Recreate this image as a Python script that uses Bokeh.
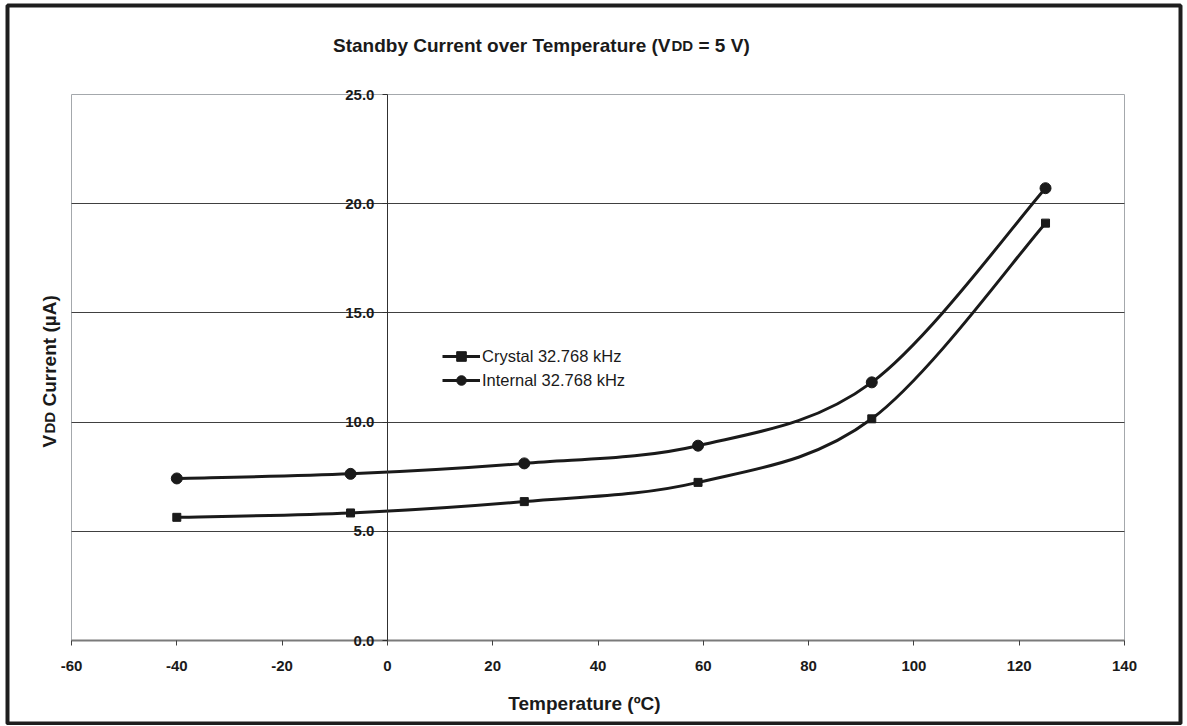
import numpy as np
from bokeh.plotting import figure
from bokeh.models import (LinearAxis, Range1d, FixedTicker, NumeralTickFormatter,
                          Legend, LegendItem, Label, Grid, ColumnDataSource,
                          BoxAnnotation)
from bokeh.embed import file_html
from bokeh.resources import INLINE

# ---------------- data ----------------
temperature = [-40, -7, 26, 59, 92, 125]
crystal = [5.64, 5.84, 6.36, 7.24, 10.15, 19.11]
internal = [7.42, 7.63, 8.11, 8.92, 11.82, 20.71]
series_labels = ["Crystal 32.768 kHz", "Internal 32.768 kHz"]
x_ticks = [-60, -40, -20, 0, 20, 40, 60, 80, 100, 120, 140]
y_ticks = [0, 5, 10, 15, 20, 25]
grid_ticks = [5, 10, 15, 20]

# ---------------- layout (pixels) ----------------
W, H = 1185, 725                 # canvas
PL, PR, PT, PB = 71, 1124, 94, 640   # plot-area box on the canvas
FONT = "Liberation Sans"
INK = "#1a1a1a"

x0, x1 = x_ticks[0], x_ticks[-1]
y0, y1 = y_ticks[0], y_ticks[-1]
kx = (PR - PL) / (x1 - x0)
ky = (PB - PT) / (y1 - y0)
x_range = Range1d(x0 - PL / kx, x1 + (W - PR) / kx)
y_range = Range1d(y0 - (H - PB) / ky, y1 + PT / ky)


def smooth_segments(xs, ys, t=1.0 / 6.0):
    """Excel-like smoothed line: cubic Bezier segments through the points."""
    xs = np.asarray(xs, float)
    ys = np.asarray(ys, float)
    px = np.concatenate([[xs[0]], xs, [xs[-1]]])
    py = np.concatenate([[ys[0]], ys, [ys[-1]]])
    d = dict(x0=[], y0=[], x1=[], y1=[], cx0=[], cy0=[], cx1=[], cy1=[])
    for i in range(len(xs) - 1):
        d["x0"].append(px[i + 1]); d["y0"].append(py[i + 1])
        d["x1"].append(px[i + 2]); d["y1"].append(py[i + 2])
        d["cx0"].append(px[i + 1] + (px[i + 2] - px[i]) * t)
        d["cy0"].append(py[i + 1] + (py[i + 2] - py[i]) * t)
        d["cx1"].append(px[i + 2] - (px[i + 3] - px[i + 1]) * t)
        d["cy1"].append(py[i + 2] - (py[i + 3] - py[i + 1]) * t)
    return ColumnDataSource(d)


p = figure(width=W, height=H, output_backend="svg", toolbar_location=None,
           x_range=x_range, y_range=y_range,
           x_axis_location=None, y_axis_location=None)
p.min_border = 0
p.min_border_left = p.min_border_right = p.min_border_top = p.min_border_bottom = 0
p.background_fill_color = "white"
p.border_fill_color = "white"
p.outline_line_color = None
p.xgrid.visible = False
p.ygrid.visible = False

# outer chart border
p.add_layout(BoxAnnotation(left=7, right=W - 5, bottom=H - 723, top=H - 5,
                           left_units="screen", right_units="screen",
                           bottom_units="screen", top_units="screen",
                           fill_alpha=0, line_color="#1e1e1e", line_alpha=1,
                           line_width=4, level="overlay"))

# plot-area border
p.add_layout(BoxAnnotation(left=x0, right=x1, bottom=y0, top=y1,
                           fill_alpha=0, line_color="#a4a8ac", line_alpha=1,
                           line_width=1, level="underlay"))

# horizontal gridlines
p.add_layout(Grid(dimension=1, ticker=FixedTicker(ticks=grid_ticks),
                  cross_bounds=(x0, x1),
                  grid_line_color="#404040", grid_line_width=1))

# x axis (at y = 0)
xa = LinearAxis(fixed_location=y0, bounds=(x0, x1),
                ticker=FixedTicker(ticks=x_ticks),
                formatter=NumeralTickFormatter(format="0"))
xa.minor_tick_line_color = None
xa.major_tick_in = 0
xa.major_tick_out = 5
xa.axis_line_color = "#7a7a7a"
xa.axis_line_width = 2
xa.major_tick_line_color = "#404040"
xa.major_label_text_font = FONT
xa.major_label_text_font_style = "bold"
xa.major_label_text_font_size = "15px"
xa.major_label_text_color = INK
xa.major_label_standoff = 15
p.add_layout(xa, "below")

# y axis crossing at x = 0
ya = LinearAxis(fixed_location=0, bounds=(y0, y1),
                ticker=FixedTicker(ticks=y_ticks),
                formatter=NumeralTickFormatter(format="0.0"))
ya.minor_tick_line_color = None
ya.major_tick_in = 0
ya.major_tick_out = 5
ya.axis_line_color = "#303030"
ya.axis_line_width = 1
ya.major_tick_line_color = "#303030"
ya.major_label_text_font = FONT
ya.major_label_text_font_style = "bold"
ya.major_label_text_font_size = "15px"
ya.major_label_text_color = INK
ya.major_label_standoff = 8
p.add_layout(ya, "left")

# series
legend_items = []
for vals, marker, msize, label in [(crystal, "square", 8, series_labels[0]),
                                   (internal, "circle", 11, series_labels[1])]:
    src = smooth_segments(temperature, vals)
    bz = p.bezier(x0="x0", y0="y0", x1="x1", y1="y1", cx0="cx0", cy0="cy0",
                  cx1="cx1", cy1="cy1", source=src, line_color=INK, line_width=3)
    sc = p.scatter(temperature, vals, marker=marker, size=msize,
                   fill_color=INK, line_color=INK)
    legend_items.append(LegendItem(label=label, renderers=[bz, sc]))

legend = Legend(items=legend_items, location=(442, H - 392), orientation="vertical",
                glyph_width=38, glyph_height=24, label_height=24, spacing=0,
                padding=0, margin=0, label_standoff=2,
                background_fill_alpha=0, border_line_color=None,
                label_text_font=FONT, label_text_font_size="16.5px",
                label_text_color=INK)
p.add_layout(legend)


# titles (with small-caps "DD"); positions in canvas pixels from top-left
def lab(text, px, py, size, align="left", angle=0.0):
    return Label(x=px, y=H - py, x_units="screen", y_units="screen", text=text,
                 text_font=FONT, text_font_style="bold", text_font_size=size,
                 text_color=INK, text_align=align, text_baseline="alphabetic",
                 angle=angle)


p.add_layout(lab("Standby Current over Temperature (V", 670, 45, "19px", "right"))
p.add_layout(lab("DD", 671, 45, "15px"))
p.add_layout(lab("= 5 V)", 698, 45, "19px"))

p.add_layout(lab("Temperature (ºC)", 584, 703, "19px", "center"))

p.add_layout(lab("V", 49, 447, "19px", "left", np.pi / 2))
p.add_layout(lab("DD", 49, 433, "15px", "left", np.pi / 2))
p.add_layout(lab("Current (µA)", 49, 406, "19px", "left", np.pi / 2))

open("out.html", "w").write(file_html(p, INLINE))
